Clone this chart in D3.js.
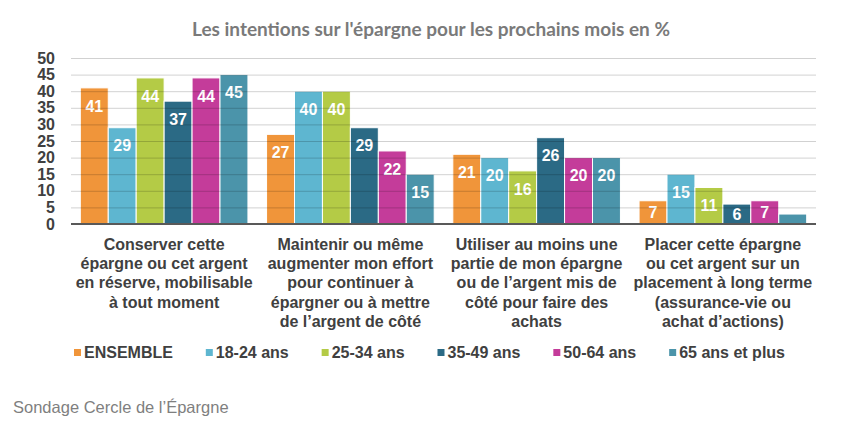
<!DOCTYPE html>
<html>
<head>
<meta charset="utf-8">
<script src="https://cdn.jsdelivr.net/npm/d3@7"></script>
<style>
  body { margin: 0; background: #fff; }
  svg { display: block; font-family: "Liberation Sans", Arial, sans-serif; }
</style>
</head>
<body>
<div id="chart"></div>
<script>
// Data
const categories = [
    ["Conserver cette", "épargne ou cet argent", "en réserve, mobilisable", "à tout moment"],
    ["Maintenir ou même", "augmenter mon effort", "pour continuer à", "épargner ou à mettre", "de l’argent de côté"],
    ["Utiliser au moins une", "partie de mon épargne", "ou de l’argent mis de", "côté pour faire des", "achats"],
    ["Placer cette épargne", "ou cet argent sur un", "placement à long terme", "(assurance-vie ou", "achat d’actions)"]
];
const seriesNames = ["ENSEMBLE", "18-24 ans", "25-34 ans", "35-49 ans", "50-64 ans", "65 ans et plus"];
const ensemble = [41, 27, 21, 7];
const age18_24 = [29, 40, 20, 15];
const age25_34 = [44, 40, 16, 11];
const age35_49 = [37, 29, 26, 6];
const age50_64 = [44, 22, 20, 7];
const age65plus = [45, 15, 20, 3];
const yTicks = [0, 5, 10, 15, 20, 25, 30, 35, 40, 45, 50];
const colors = ["#f0953a", "#5eb6d0", "#b4cb46", "#2b6a85", "#c43c9a", "#4b94aa"];

const seriesValues = [ensemble, age18_24, age25_34, age35_49, age50_64, age65plus];

const W = 843, H = 434;
const plot = { left: 71, right: 816, top: 58, bottom: 224 };

const svg = d3.select("#chart")
    .append("svg")
    .attr("width", W)
    .attr("height", H);

// Scales
const x0 = d3.scaleBand()
    .domain(d3.range(categories.length))
    .range([plot.left, plot.right])
    .paddingInner(0.1)
    .paddingOuter(0.05);

const x1 = d3.scaleBand()
    .domain(d3.range(seriesNames.length))
    .range([0, x0.bandwidth()]);

const y = d3.scaleLinear()
    .domain([0, 50])
    .range([plot.bottom, plot.top]);

// Title
const title = svg.append("text")
    .attr("x", 431)
    .attr("y", 36)
    .attr("text-anchor", "middle")
    .style("font-family", "Lato, 'Open Sans', sans-serif")
    .style("font-weight", "bold")
    .style("font-size", "17px")
    .style("fill", "#7a7a7a")
    .text("Les intentions sur l'épargne pour les prochains mois en %");
// fit title width to the reference
const tw = title.node().getComputedTextLength();
title.style("font-size", (17 * 478 / tw) + "px");

// Bars
const groups = svg.append("g")
    .selectAll("g")
    .data(categories.map((c, i) => i))
    .enter().append("g")
    .attr("transform", i => `translate(${x0(i)},0)`);

groups.selectAll("rect")
    .data(i => seriesValues.map((vals, s) => ({ s, v: vals[i] })))
    .enter().append("rect")
    .attr("x", d => x1(d.s))
    .attr("y", d => y(d.v))
    .attr("width", x1.bandwidth())
    .attr("height", d => y(0) - y(d.v))
    .attr("fill", d => colors[d.s])
    .attr("stroke", "#fff")
    .attr("stroke-width", 1);

// Grid lines (drawn over bars, translucent)
svg.append("g")
    .attr("class", "grid")
    .attr("transform", `translate(${plot.left},0)`)
    .call(d3.axisLeft(y)
        .tickValues(yTicks.filter(t => t > 0))
        .tickSize(-(plot.right - plot.left))
        .tickFormat(""))
    .call(g => g.select(".domain").remove())
    .call(g => g.selectAll("line")
        .attr("stroke", "#000")
        .attr("stroke-opacity", 0.18));

// Value labels
groups.selectAll("text")
    .data(i => seriesValues.map((vals, s) => ({ s, v: vals[i] })))
    .enter().append("text")
    .attr("x", d => x1(d.s) + x1.bandwidth() / 2)
    .attr("y", d => {
        const top = y(d.v), h = y(0) - y(d.v);
        if (h < 16) return top - 9;
        return Math.min(top + 18, top + h / 2);
    })
    .attr("dy", "0.36em")
    .attr("text-anchor", "middle")
    .style("font-weight", "bold")
    .style("font-size", "16px")
    .style("fill", "#fff")
    .text(d => d.v);

// Y axis
svg.append("g")
    .attr("transform", `translate(${plot.left},0)`)
    .call(d3.axisLeft(y).tickValues(yTicks).tickSize(0).tickPadding(16))
    .call(g => g.select(".domain").remove())
    .call(g => g.selectAll("text")
        .style("font-family", "'Liberation Sans', Arial, sans-serif")
        .style("font-weight", "bold")
        .style("font-size", "16px")
        .style("fill", "#404040"));

// Baseline
svg.append("line")
    .attr("x1", plot.left)
    .attr("x2", plot.right)
    .attr("y1", y(0))
    .attr("y2", y(0))
    .attr("stroke", "#595959")
    .attr("stroke-width", 2);

// Category labels
categories.forEach((lines, i) => {
    const t = svg.append("text")
        .attr("x", x0(i) + x0.bandwidth() / 2)
        .attr("y", 250)
        .attr("text-anchor", "middle")
        .style("font-weight", "bold")
        .style("font-size", "16px")
        .style("fill", "#404040");
    lines.forEach((line, j) => {
        t.append("tspan")
            .attr("x", x0(i) + x0.bandwidth() / 2)
            .attr("y", 250 + j * 19.2)
            .text(line);
    });
});

// Legend, spread evenly between the reference's extents
const legend = svg.append("g");
const items = seriesNames.map((name, s) => {
    const g = legend.append("g");
    g.append("rect")
        .attr("width", 7)
        .attr("height", 7)
        .attr("y", 349)
        .attr("fill", colors[s]);
    const t = g.append("text")
        .attr("x", 10)
        .attr("y", 358)
        .style("font-weight", "bold")
        .style("font-size", "16px")
        .style("fill", "#404040")
        .text(name);
    return { g, w: 10 + t.node().getComputedTextLength() };
});
const legStart = 74, legEnd = 785;
const gap = (legEnd - legStart - d3.sum(items, d => d.w)) / (items.length - 1);
let lx = legStart;
items.forEach(it => {
    it.g.attr("transform", `translate(${lx},0)`);
    lx += it.w + gap;
});

// Source
svg.append("text")
    .attr("x", 13)
    .attr("y", 413)
    .style("font-size", "16.5px")
    .style("fill", "#7f7f7f")
    .text("Sondage Cercle de l’Épargne");
</script>
</body>
</html>
